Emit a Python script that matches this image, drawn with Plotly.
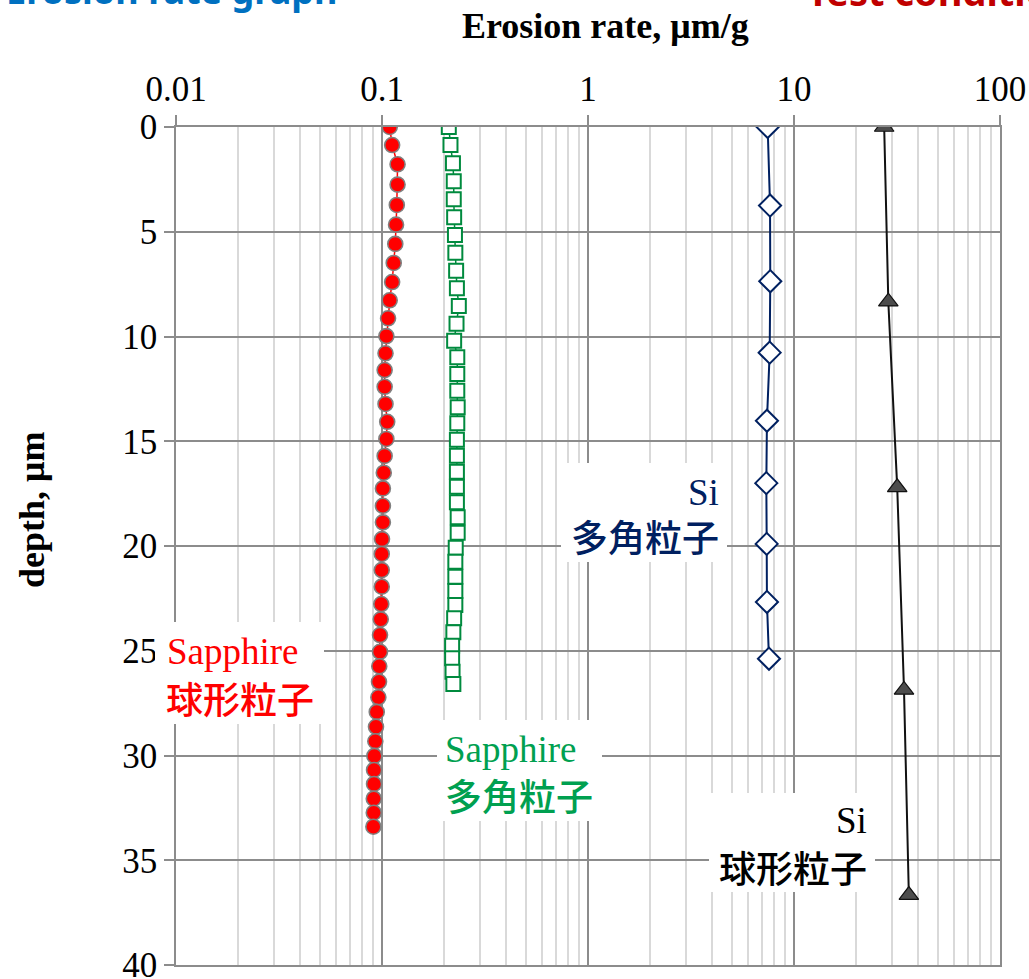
import plotly.graph_objects as go

# Sapphire, spherical particles
sap_sph_depth = [0, 0.86, 1.78, 2.75, 3.72, 4.66, 5.58, 6.49, 7.40, 8.27, 9.13, 9.98, 10.80,
                 11.60, 12.40, 13.22, 14.07, 14.89, 15.70, 16.50, 17.25, 18.08, 18.87, 19.67,
                 20.38, 21.15, 21.94, 22.77, 23.50, 24.25, 25.05, 25.74, 26.48, 27.22, 27.92,
                 28.63, 29.32, 30.02, 30.69, 31.36, 32.06, 32.73, 33.40]
sap_sph_rate = [0.109, 0.112, 0.119, 0.119, 0.118, 0.117, 0.116, 0.114, 0.112, 0.109, 0.107,
                0.105, 0.104, 0.103, 0.103, 0.104, 0.106, 0.105, 0.103, 0.102, 0.101, 0.101,
                0.101, 0.100, 0.0997, 0.0997, 0.0997, 0.0992, 0.0986, 0.0978, 0.0978, 0.0970,
                0.0967, 0.0960, 0.0943, 0.0935, 0.0928, 0.0918, 0.0915, 0.0915, 0.0912,
                0.0912, 0.0908]

# Sapphire, angular particles
sap_ang_depth = [0, 0.86, 1.73, 2.59, 3.45, 4.31, 5.16, 6.00, 6.86, 7.70, 8.54, 9.39, 10.20,
                 10.99, 11.79, 12.59, 13.38, 14.14, 14.93, 15.69, 16.45, 17.17, 17.91, 18.63,
                 19.37, 20.08, 20.75, 21.47, 22.15, 22.82, 23.45, 24.12, 24.76, 25.36, 26.00,
                 26.59]
sap_ang_rate = [0.211, 0.215, 0.221, 0.223, 0.223, 0.224, 0.226, 0.227, 0.229, 0.231, 0.236,
                0.230, 0.224, 0.232, 0.232, 0.232, 0.233, 0.232, 0.231, 0.231, 0.231, 0.231,
                0.231, 0.233, 0.233, 0.228, 0.227, 0.227, 0.227, 0.227, 0.224, 0.222, 0.219,
                0.219, 0.220, 0.222]

# Si, angular particles
si_ang_depth = [0, 3.75, 7.36, 10.77, 14.02, 17.0, 19.90, 22.67, 25.38]
si_ang_rate = [7.45, 7.65, 7.67, 7.62, 7.39, 7.34, 7.37, 7.39, 7.56]

# Si, spherical particles
si_sph_depth = [0, 8.34, 17.2, 26.87, 36.66]
si_sph_rate = [27.4, 28.7, 31.7, 34.2, 36.1]

x_ticks = [0.01, 0.1, 1, 10, 100]
x_tick_labels = ["0.01", "0.1", "1", "10", "100"]
y_ticks = [0, 5, 10, 15, 20, 25, 30, 35, 40]

SERIF = "Liberation Serif, Times New Roman, serif"
CJK = "Noto Sans CJK JP, Noto Sans CJK SC, sans-serif"
HEAD = "Noto Sans, Open Sans, sans-serif"

W, H = 1029, 979
L, R, T, B = 176, 29, 127, 14
PW, PH = W - L - R, H - T - B


def px(x):
    return (x - L) / PW


def py(y):
    return (H - B - y) / PH


fig = go.Figure()

fig.add_trace(go.Scatter(
    x=sap_sph_rate, y=sap_sph_depth, mode="lines+markers",
    line=dict(color="#ff0000", width=1.5),
    marker=dict(symbol="circle", size=15, color="#ff0000",
                line=dict(color="#808080", width=1.6)),
))
fig.add_trace(go.Scatter(
    x=sap_ang_rate, y=sap_ang_depth, mode="lines+markers",
    line=dict(color="#008a3e", width=1.5),
    marker=dict(symbol="square", size=14, color="white",
                line=dict(color="#008a3e", width=2)),
))
fig.add_trace(go.Scatter(
    x=si_ang_rate, y=si_ang_depth, mode="lines+markers",
    line=dict(color="#002060", width=2),
    marker=dict(symbol="diamond", size=17, color="white",
                line=dict(color="#002060", width=2)),
))
fig.add_trace(go.Scatter(
    x=si_sph_rate, y=si_sph_depth, mode="lines+markers",
    line=dict(color="#111111", width=2),
    marker=dict(symbol="triangle-up", size=17, color="#4d4d4d",
                line=dict(color="#111111", width=1.2)),
))

minor_vals = [m * 10 ** e for e in range(-2, 2) for m in range(2, 10)]

GRID = "#8c8c8c"
fig.update_xaxes(
    type="log", range=[-2, 2], side="top",
    tickvals=x_ticks, ticktext=x_tick_labels,
    tickfont=dict(family=SERIF, size=35, color="black"),
    showgrid=True, gridcolor=GRID, gridwidth=1.5,
    minor=dict(tickvals=minor_vals, showgrid=True, gridcolor="#d9d9d9", gridwidth=1.5,
               ticks=""),
    ticks="outside", ticklen=10, tickcolor=GRID, tickwidth=1.5,
    showline=True, linecolor=GRID, linewidth=1.5, mirror=True,
    zeroline=False, fixedrange=True, automargin=False, ticklabeloverflow="allow",
)
fig.update_yaxes(
    range=[40, 0], tickvals=y_ticks,
    tickfont=dict(family=SERIF, size=35, color="black"),
    showgrid=True, gridcolor=GRID, gridwidth=1.5,
    ticks="outside", ticklen=10, tickcolor=GRID, tickwidth=1.5,
    showline=True, linecolor=GRID, linewidth=1.5, mirror=True,
    zeroline=False, fixedrange=True, automargin=False, ticklabeloverflow="allow",
)

# white panels behind the series labels
boxes = [(155, 622, 324, 724), (437, 720, 602, 821), (561, 463, 727, 562), (709, 793, 875, 892)]
for x0, y0, x1, y1 in boxes:
    fig.add_shape(type="rect", xref="paper", yref="paper", layer="above",
                  x0=px(x0), x1=px(x1), y0=py(y1), y1=py(y0),
                  fillcolor="white", line=dict(width=0))

annotations = []


def label(text, x, y, font, size, color, xanchor, bold=False, weight=None):
    f = dict(family=font, size=size, color=color)
    if weight:
        f["weight"] = weight
    annotations.append(dict(
        text=f"<b>{text}</b>" if bold else text,
        xref="paper", yref="paper", x=px(x), y=py(y),
        xanchor=xanchor, yanchor="middle", showarrow=False,
        font=f,
    ))


# series labels
label("Sapphire", 165, 651, SERIF, 37, "#ff0000", "left")
label("球形粒子", 164, 698, CJK, 37, "#ff0000", "left", weight=500)
label("Sapphire", 443, 749, SERIF, 37, "#00a050", "left")
label("多角粒子", 443, 795, CJK, 37, "#00a050", "left", weight=500)
label("Si", 721, 492, SERIF, 37, "#002060", "right")
label("多角粒子", 721, 536, CJK, 37, "#002060", "right", weight=500)
label("Si", 869, 820, SERIF, 37, "black", "right")
label("球形粒子", 869, 867, CJK, 37, "black", "right", weight=500)

# axis titles
label("Erosion rate, μm/g", 605, 26, SERIF, 36, "black", "center", bold=True)
annotations.append(dict(
    text="<b>depth, μm</b>", xref="paper", yref="paper", x=px(32), y=py(510),
    xanchor="center", yanchor="middle", textangle=-90, showarrow=False,
    font=dict(family=SERIF, size=36, color="black"),
))

# page headings running off the top edge
label("Erosion rate graph", 4, -9, HEAD, 36, "#0070c0", "left", bold=True)
label("Test condition", 805, -9, HEAD, 38, "#c00000", "left", bold=True)

fig.update_layout(
    width=W, height=H,
    margin=dict(l=L, r=R, t=T, b=B, pad=0),
    paper_bgcolor="white", plot_bgcolor="white",
    showlegend=False, hovermode=False,
    annotations=annotations,
)

fig.write_html("out.html", config={"displayModeBar": False})
